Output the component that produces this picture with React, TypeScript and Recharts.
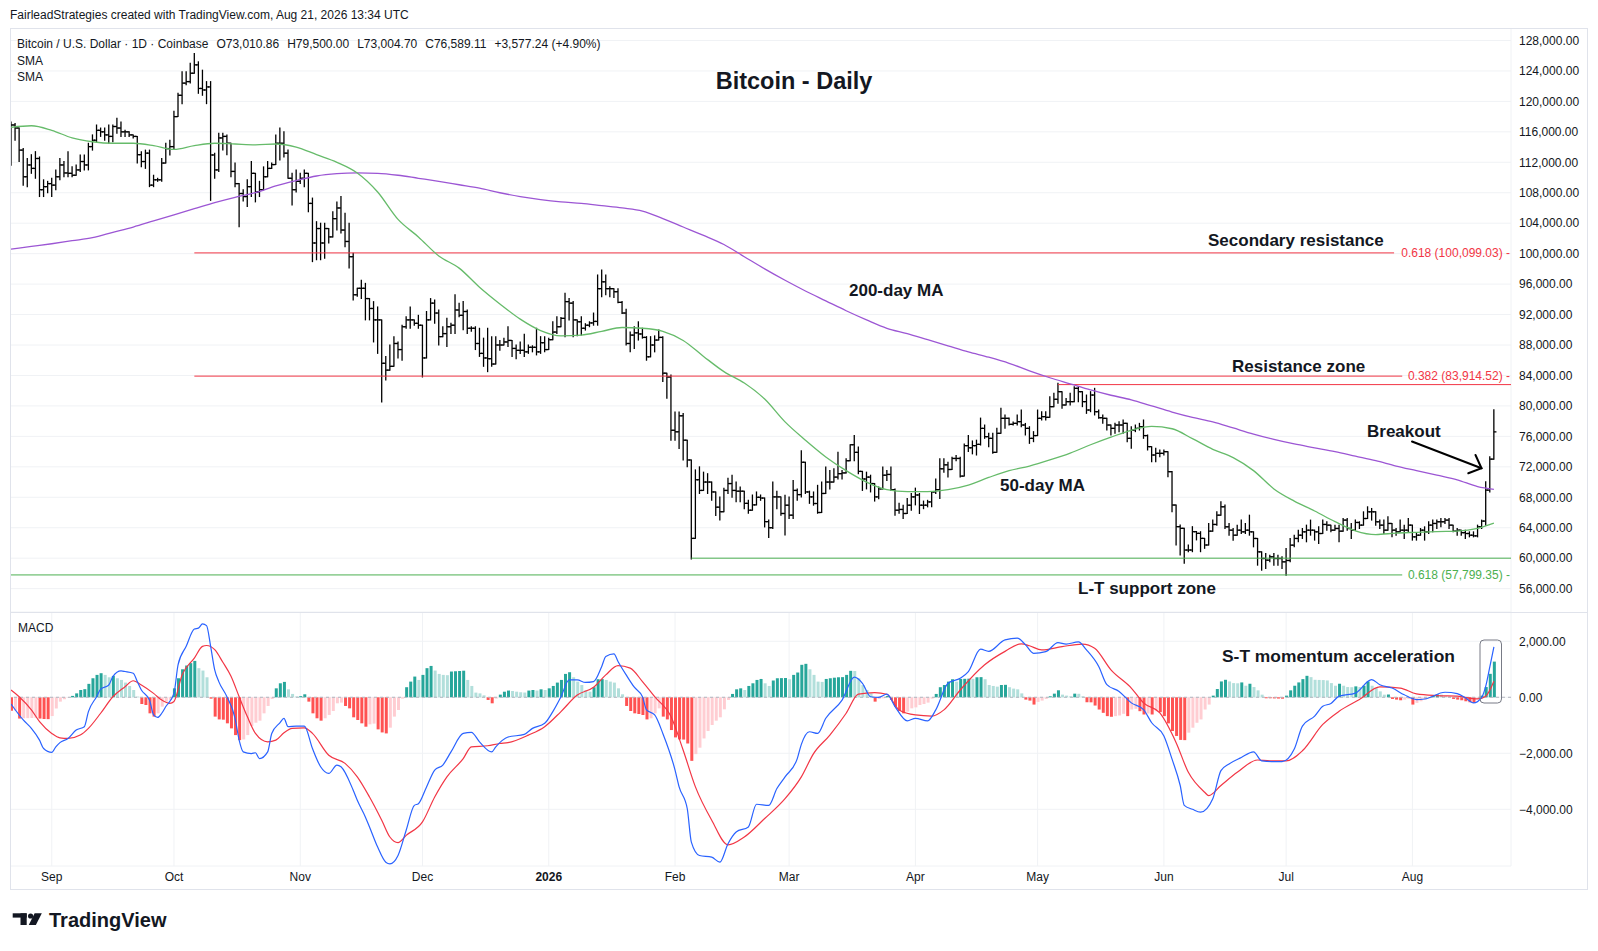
import React from "react";
import { ComposedChart, Bar, Line, XAxis, YAxis, CartesianGrid, ReferenceLine, Cell } from "recharts";

// day 0 = Aug 22 2025, day 364 = Aug 21 2026; prices in thousands of USD
const FIRST_OPEN = 113.5;

const CLOSE = [
  116.9, 116.5, 113.6, 110.1, 111.65, 111.2, 112.5, 108.4, 108.8, 109.2,
  109.0, 110.1, 111.65, 110.6, 110.55, 110.3, 111.0, 112.1, 111.65, 114.06,
  114.9, 116.2, 116.0, 115.6, 115.4, 116.7, 116.5, 116.0, 116.0, 115.6,
  115.4, 113.0, 112.1, 113.2, 109.0, 109.7, 109.7, 111.9, 113.8, 114.06,
  118.0, 120.8, 122.4, 122.6, 123.7, 124.8, 121.7, 121.5, 121.9, 112.96,
  111.0, 115.2, 115.4, 114.5, 110.8, 109.2, 107.9, 107.5, 108.8, 110.55,
  108.1, 108.4, 110.1, 111.2, 111.7, 114.5, 114.5, 113.2, 109.9, 108.4,
  109.5, 109.9, 110.55, 106.6, 101.4, 103.3, 101.4, 103.3, 102.2, 104.6,
  106.0, 103.1, 101.6, 99.6, 94.6, 95.45, 95.45, 94.1, 92.8, 91.3,
  91.3, 85.6, 84.7, 85.2, 88.2, 87.4, 90.4, 91.3, 91.3, 90.85,
  90.6, 86.3, 91.3, 93.5, 92.2, 89.1, 89.5, 90.4, 90.6, 92.6,
  91.9, 92.4, 90.2, 90.2, 88.2, 86.9, 86.3, 86.2, 85.5, 88.0,
  88.0, 88.4, 88.6, 87.55, 87.3, 87.3, 87.1, 87.7, 87.7, 87.1,
  88.3, 87.4, 88.7, 89.7, 90.4, 91.5, 93.7, 93.5, 91.3, 91.05,
  90.2, 90.6, 90.9, 91.1, 95.4, 96.3, 95.4, 95.4, 95.0, 93.6,
  92.2, 88.2, 89.3, 89.6, 89.45, 89.0, 86.45, 88.0, 88.65, 89.0,
  84.3, 83.8, 76.8, 76.6, 78.7, 75.5, 72.9, 62.6, 70.3, 68.9,
  70.0, 70.0, 68.7, 66.7, 66.1, 68.9, 69.8, 68.9, 68.8, 68.8,
  67.2, 66.3, 67.0, 68.0, 67.9, 64.8, 64.0, 68.05, 68.05, 65.87,
  66.96, 65.65, 68.9, 68.35, 72.6, 68.7, 68.05, 67.18, 66.0, 68.5,
  70.0, 70.0, 70.65, 71.1, 71.2, 72.8, 74.9, 73.9, 71.4, 70.4,
  70.65, 69.8, 68.05, 69.1, 70.9, 71.0, 69.0, 66.3, 66.4, 65.87,
  66.96, 68.05, 68.3, 66.96, 66.96, 67.39, 68.7, 69.0, 71.74, 72.26,
  71.65, 73.1, 73.1, 70.78, 74.78, 74.5, 74.78, 74.95, 77.05, 75.96,
  75.74, 73.9, 76.4, 78.37, 78.37, 77.58, 77.71, 77.93, 77.49, 77.05,
  75.74, 76.1, 78.37, 78.59, 78.5, 79.9, 80.87, 81.87, 80.12, 80.56,
  80.56, 82.31, 81.87, 80.56, 79.46, 81.43, 79.24, 78.45, 78.37, 77.49,
  77.05, 77.49, 77.49, 77.71, 75.74, 76.83, 77.05, 77.27, 76.1, 74.65,
  73.55, 73.77, 73.77, 73.99, 71.36, 66.98, 64.14, 63.92, 61.07, 61.07,
  63.48, 63.26, 62.6, 61.73, 63.55, 64.43, 65.65, 66.75, 64.12, 63.68,
  63.02, 63.68, 63.46, 63.68, 63.46, 62.59, 60.83, 59.96, 59.74, 60.18,
  59.96, 59.96, 59.52, 59.7, 61.71, 62.59, 63.02, 63.46, 63.68, 63.68,
  63.46, 63.24, 64.43, 64.34, 63.68, 63.9, 63.55, 65.0, 63.9, 63.68,
  64.69, 64.34, 65.21, 66.09, 66.09, 64.78, 64.34, 63.68, 64.56, 63.68,
  63.46, 63.68, 63.68, 64.34, 62.8, 63.02, 63.68, 63.46, 64.34, 64.56,
  64.78, 64.78, 65.0, 64.34, 63.55, 63.68, 63.35, 63.24, 63.02, 62.93,
  64.12, 64.87, 68.94, 73.01, 76.59,
];

const HIGH = [
  117.3, 117.1, 116.5, 113.8, 112.5, 113.0, 113.4, 112.7, 109.7, 109.5,
  109.9, 111.0, 112.5, 112.1, 113.4, 111.4, 111.65, 112.96, 112.96, 114.5,
  115.6, 116.9, 116.5, 116.5, 116.9, 116.9, 117.8, 117.3, 116.2, 116.0,
  115.6, 115.4, 113.4, 113.6, 113.6, 110.3, 109.9, 112.5, 114.5, 114.9,
  118.7, 121.06, 123.9, 123.9, 125.0, 126.3, 125.2, 124.1, 122.6, 122.6,
  113.2, 115.8, 115.8, 115.6, 114.5, 111.9, 109.2, 108.4, 109.7, 112.1,
  110.55, 109.5, 111.4, 112.1, 111.9, 115.6, 116.5, 116.0, 113.6, 110.55,
  111.0, 110.55, 111.0, 110.55, 107.3, 104.2, 104.0, 104.0, 103.3, 105.5,
  106.8, 107.5, 105.3, 104.0, 100.04, 95.45, 96.5, 96.1, 94.1, 93.7,
  93.0, 91.3, 86.5, 88.0, 89.1, 88.4, 90.6, 91.7, 93.0, 91.3,
  91.9, 90.6, 92.4, 94.1, 93.9, 92.6, 90.4, 91.5, 90.85, 94.6,
  93.5, 93.7, 92.6, 90.4, 90.4, 90.2, 88.9, 90.2, 89.1, 89.1,
  88.6, 88.9, 90.4, 88.6, 88.0, 88.4, 89.4, 88.0, 87.9, 90.2,
  89.1, 89.1, 88.9, 91.05, 91.7, 91.6, 94.8, 94.1, 93.7, 91.3,
  91.7, 90.8, 91.05, 92.2, 97.2, 97.85, 97.2, 95.65, 95.4, 95.4,
  93.7, 92.7, 89.7, 90.4, 91.05, 90.2, 89.1, 89.1, 89.2, 89.96,
  89.1, 84.3, 84.05, 79.2, 79.2, 79.0, 75.5, 72.9, 71.6, 72.0,
  71.3, 71.1, 70.0, 68.7, 68.05, 69.2, 70.5, 70.9, 70.0, 69.35,
  68.8, 67.6, 68.3, 68.7, 68.3, 67.9, 65.0, 70.0, 68.8, 68.05,
  68.26, 68.05, 70.2, 69.1, 74.1, 72.6, 68.8, 68.7, 69.57, 70.0,
  71.96, 71.5, 71.74, 73.9, 71.5, 73.05, 74.9, 76.1, 74.6, 71.4,
  71.3, 70.9, 69.8, 69.35, 71.96, 71.5, 71.96, 69.1, 67.2, 66.96,
  67.83, 68.5, 69.2, 68.5, 67.5, 67.6, 68.7, 70.4, 73.05, 73.05,
  72.61, 73.27, 73.5, 73.27, 75.0, 76.1, 75.4, 75.5, 78.4, 77.49,
  76.4, 76.4, 77.05, 79.68, 78.8, 78.4, 77.9, 78.8, 79.46, 77.7,
  77.27, 76.62, 79.46, 79.24, 79.24, 81.21, 81.65, 82.97, 81.87, 80.99,
  81.65, 82.53, 82.53, 81.87, 81.43, 81.87, 82.31, 79.46, 78.81, 78.37,
  77.49, 77.71, 77.93, 78.15, 77.71, 77.27, 77.49, 77.71, 78.15, 76.18,
  74.65, 74.43, 74.21, 74.21, 73.99, 71.4, 66.98, 64.36, 63.92, 61.73,
  64.14, 63.5, 63.48, 62.6, 64.56, 65.0, 66.09, 67.4, 66.97, 64.56,
  63.9, 64.34, 65.0, 64.56, 65.65, 63.46, 62.59, 60.83, 60.61, 60.4,
  60.61, 60.4, 60.18, 61.27, 62.59, 63.02, 63.68, 63.9, 64.34, 65.0,
  63.68, 64.12, 65.0, 64.78, 64.34, 64.34, 64.34, 65.21, 65.21, 64.56,
  65.0, 64.78, 66.09, 66.75, 66.53, 66.09, 65.0, 65.0, 65.43, 64.56,
  63.9, 65.0, 64.34, 65.21, 64.34, 63.24, 63.9, 64.12, 64.78, 65.0,
  65.0, 65.21, 65.21, 65.21, 64.34, 63.9, 63.68, 63.68, 63.46, 63.46,
  64.34, 65.0, 70.03, 73.31, 79.5,
];

const LOW = [
  111.6, 114.9, 112.1, 109.0, 108.8, 110.55, 109.9, 107.5, 107.5, 108.0,
  107.5, 108.4, 109.7, 110.1, 110.1, 110.1, 110.3, 110.8, 111.0, 111.0,
  113.6, 114.7, 115.4, 114.9, 114.5, 114.7, 115.8, 115.4, 115.4, 115.4,
  115.2, 111.9, 111.4, 111.2, 108.8, 108.8, 109.5, 109.5, 111.9, 112.96,
  113.8, 118.0, 119.7, 122.2, 122.4, 123.7, 121.06, 120.8, 119.7, 107.0,
  109.9, 110.8, 113.6, 113.0, 110.1, 108.8, 103.55, 106.9, 106.2, 107.5,
  106.8, 107.5, 108.4, 110.1, 111.2, 111.7, 112.3, 112.7, 109.9, 106.4,
  108.1, 109.2, 108.8, 105.5, 98.95, 99.2, 99.2, 99.4, 101.4, 102.2,
  103.1, 102.7, 100.9, 98.1, 93.9, 94.4, 94.1, 91.3, 91.3, 88.4,
  86.9, 80.5, 83.4, 84.7, 85.2, 86.3, 86.0, 90.2, 90.2, 90.6,
  90.2, 83.8, 86.3, 91.3, 90.85, 88.0, 89.1, 87.8, 89.5, 89.5,
  91.7, 90.0, 89.5, 89.8, 87.4, 86.5, 85.2, 84.5, 85.2, 85.5,
  87.3, 88.0, 87.8, 86.5, 86.2, 86.9, 86.5, 86.9, 87.1, 86.7,
  86.9, 87.1, 87.4, 88.7, 89.5, 90.4, 89.1, 91.3, 89.1, 89.2,
  89.3, 89.96, 90.4, 90.6, 90.6, 94.35, 94.6, 94.35, 94.25, 93.55,
  92.15, 88.0, 87.1, 87.55, 88.65, 88.9, 86.0, 86.45, 87.1, 88.65,
  83.2, 81.0, 75.5, 75.5, 74.4, 72.9, 72.0, 59.9, 62.6, 68.5,
  68.9, 68.5, 67.6, 65.6, 65.0, 66.1, 68.5, 68.0, 67.4, 67.4,
  66.5, 65.9, 66.3, 67.0, 67.6, 64.1, 62.7, 63.9, 66.5, 65.65,
  63.05, 65.2, 65.2, 67.6, 68.05, 68.5, 67.2, 66.96, 65.9, 66.0,
  68.5, 69.1, 70.0, 70.4, 70.4, 71.2, 72.8, 72.8, 71.1, 68.9,
  69.1, 68.7, 67.5, 67.8, 69.1, 70.2, 68.9, 65.65, 65.9, 65.2,
  65.87, 66.3, 67.0, 65.87, 66.5, 66.74, 66.74, 68.5, 67.83, 71.3,
  70.65, 71.65, 72.8, 70.65, 70.78, 74.0, 73.7, 73.55, 74.86, 75.74,
  74.65, 73.77, 73.9, 76.4, 77.05, 77.49, 77.49, 77.49, 77.27, 76.18,
  75.08, 75.3, 76.1, 78.15, 78.15, 78.5, 79.9, 80.34, 79.68, 80.12,
  80.12, 80.56, 80.56, 79.9, 79.02, 79.24, 78.81, 78.37, 77.71, 76.83,
  76.18, 76.4, 76.62, 76.4, 75.3, 74.43, 76.62, 76.83, 75.74, 74.21,
  72.67, 72.67, 73.33, 73.55, 70.7, 66.1, 61.73, 60.41, 59.32, 60.85,
  60.85, 62.4, 60.85, 61.29, 61.73, 63.55, 64.34, 65.65, 63.9, 63.02,
  62.37, 63.02, 63.24, 63.24, 63.02, 61.49, 59.08, 58.42, 58.64, 59.52,
  59.08, 59.08, 58.64, 57.77, 59.52, 61.49, 62.15, 62.59, 62.15, 63.02,
  62.37, 61.93, 63.24, 63.68, 63.46, 63.68, 62.15, 63.55, 63.68, 62.59,
  63.68, 63.9, 64.34, 65.21, 65.0, 64.34, 63.9, 63.24, 63.68, 62.8,
  63.02, 63.46, 62.59, 63.46, 62.37, 62.37, 63.02, 62.37, 63.24, 63.46,
  63.9, 64.12, 64.56, 63.9, 63.46, 63.02, 63.02, 62.59, 62.8, 62.8,
  62.8, 63.9, 64.34, 68.7, 73.0,
];

// [day, value]
const SMA50: [number, number][] = [
  [0, 116.6], [5, 116.8], [10, 116.2], [15, 115.2], [20, 114.7], [25, 114.5], [30, 114.5], [35, 114.2],
  [40, 113.7], [45, 114.2], [50, 114.5], [55, 114.4], [60, 114.3], [65, 114.4], [70, 114.0], [75, 113.0],
  [80, 112.0], [85, 110.6], [90, 108.1], [95, 104.5], [100, 102.2], [105, 99.7], [110, 98.1], [115, 95.6],
  [120, 93.4], [125, 91.4], [130, 89.9], [135, 89.2], [140, 89.3], [145, 89.8], [150, 90.3], [155, 90.2],
  [160, 89.8], [165, 88.6], [170, 86.5], [175, 84.5], [180, 83.0], [185, 80.9], [190, 77.9], [195, 75.5],
  [200, 73.3], [205, 71.5], [210, 70.0], [215, 69.0], [220, 68.75], [225, 68.75], [230, 69.0], [235, 69.6],
  [240, 70.6], [245, 71.5], [250, 72.1], [255, 72.9], [260, 73.8], [265, 74.9], [270, 75.9], [275, 76.8],
  [280, 77.3], [285, 77.0], [290, 75.7], [295, 74.3], [300, 73.2], [305, 71.5], [310, 69.1], [315, 67.5],
  [320, 66.2], [325, 64.8], [330, 63.6], [335, 63.1], [340, 63.3], [345, 63.4], [350, 63.5], [355, 63.55],
  [360, 63.9], [364, 64.6],
];

const SMA200: [number, number][] = [
  [0, 100.6], [5, 100.95], [10, 101.3], [15, 101.7], [20, 102.1], [25, 102.8], [30, 103.5], [35, 104.3],
  [40, 105.1], [45, 105.9], [50, 106.7], [55, 107.4], [60, 108.0], [65, 108.9], [70, 109.6], [75, 110.2],
  [80, 110.5], [85, 110.6], [90, 110.55], [95, 110.3], [100, 109.9], [105, 109.5], [110, 109.05], [115, 108.6],
  [120, 108.0], [125, 107.5], [130, 107.1], [135, 106.8], [140, 106.6], [145, 106.3], [150, 106.0], [155, 105.6],
  [160, 104.6], [165, 103.5], [170, 102.4], [175, 101.2], [180, 99.6], [185, 98.0], [190, 96.5], [195, 95.1],
  [200, 93.8], [205, 92.5], [210, 91.3], [215, 90.2], [220, 89.5], [225, 88.7], [230, 87.9], [235, 87.1],
  [240, 86.4], [245, 85.6], [250, 84.6], [255, 83.7], [260, 82.9], [265, 82.1], [270, 81.4], [275, 80.8],
  [280, 80.0], [285, 79.2], [290, 78.5], [295, 77.9], [300, 77.1], [305, 76.3], [310, 75.6], [315, 75.0],
  [320, 74.5], [325, 74.0], [330, 73.4], [335, 72.8], [340, 72.1], [345, 71.5], [350, 70.9], [355, 70.3],
  [360, 69.4], [364, 69.05],
];

const MACD: [number, number][] = [
  [0, -240], [3, -810], [5, -1110], [7, -1530], [8, -1830], [10, -1970], [11, -1770], [12, -1620], [14, -1470],
  [16, -1170], [18, -1050], [19, -510], [21, 20], [22, 290], [24, 440], [25, 740], [27, 940], [28, 920], [30, 860],
  [31, 560], [32, 260], [34, -100], [35, -630], [36, -720], [37, -570], [38, -330], [40, 140], [41, 1160], [43, 1820],
  [45, 2440], [46, 2470], [47, 2620], [48, 2560], [49, 1820], [50, 980], [51, 560], [53, 20], [55, -750], [56, -1530],
  [57, -1950], [59, -2010], [60, -1980], [61, -2190], [63, -1950], [64, -1290], [66, -910], [67, -750], [68, -1050],
  [70, -1030], [72, -1030], [74, -1830], [76, -2480], [78, -2720], [80, -2420], [81, -2480], [84, -3320], [85, -3680],
  [87, -4280], [88, -4630], [90, -5350], [92, -5890], [93, -5950], [95, -5650], [97, -4750], [99, -3860], [100, -3800],
  [102, -3200], [104, -2600], [106, -2420], [108, -1950], [111, -1290], [113, -1250], [115, -1590], [118, -1950],
  [119, -1770], [122, -1420], [126, -1325], [128, -1110], [131, -930], [133, -510], [135, 20], [137, 620], [139, 620],
  [141, 530], [143, 560], [145, 1100], [146, 1460], [148, 1550], [149, 1280], [151, 800], [153, 360], [155, 20],
  [156, -450], [158, -630], [160, -1290], [163, -2600], [164, -3200], [166, -3980], [167, -5170], [169, -5650],
  [172, -5710], [174, -5890], [176, -5230], [178, -4810], [181, -4630], [183, -3820], [186, -3860], [188, -3260],
  [190, -2840], [193, -2190], [194, -1680], [196, -1230], [198, -1290], [200, -750], [204, -100], [207, 720],
  [209, 500], [211, 20], [213, 0], [215, 110], [217, -330], [220, -840], [222, -750], [225, -840], [227, -450],
  [230, 500], [233, 680], [235, 920], [238, 1720], [240, 1640], [244, 2050], [247, 2110], [249, 1880], [251, 1570],
  [254, 1630], [257, 1950], [259, 1900], [262, 1980], [264, 1690], [267, 1100], [269, 450], [272, 210], [275, -200],
  [278, -440], [280, -910], [283, -1380], [285, -2210], [287, -3150], [288, -3860], [290, -4000], [292, -4100],
  [295, -3620], [297, -2620], [299, -2380], [302, -2150], [305, -1950], [307, -2270], [310, -2300], [312, -2300],
  [315, -1850], [317, -1030], [320, -670], [322, -320], [324, -220], [326, 40], [330, 150], [334, 630], [336, 450],
  [339, 330], [342, 90], [345, -80], [347, -60], [352, 180], [355, 130], [357, -20], [359, -200], [361, 0],
  [362, 400], [363, 1090], [364, 1800],
];

const SIGNAL: [number, number][] = [
  [0, 260], [2, 20], [5, -450], [7, -870], [10, -1290], [12, -1450], [14, -1470], [17, -1350], [19, -1110],
  [22, -570], [25, 20], [28, 380], [30, 590], [32, 440], [35, 140], [37, -100], [39, -220], [40, -150], [42, 800],
  [45, 1400], [47, 1820], [48, 1850], [50, 1700], [52, 1250], [54, 750], [56, 20], [58, -690], [60, -1290],
  [63, -1590], [65, -1530], [67, -1270], [69, -1110], [72, -1090], [74, -1290], [78, -2070], [82, -2360],
  [85, -2840], [88, -3560], [91, -4390], [93, -4990], [95, -5190], [97, -4930], [101, -4450], [104, -3560],
  [107, -2840], [111, -2190], [113, -1770], [117, -1730], [120, -1650], [122, -1620], [127, -1350], [131, -1050],
  [135, -510], [139, 80], [143, 360], [146, 800], [149, 1130], [152, 1040], [155, 560], [158, 20], [162, -690],
  [165, -1890], [168, -3200], [172, -4390], [176, -5270], [180, -4990], [185, -4330], [190, -3620], [194, -2840],
  [197, -2010], [201, -1350], [205, -570], [208, 110], [212, 170], [215, 110], [218, -450], [222, -630],
  [226, -670], [229, -450], [233, 260], [239, 1160], [244, 1640], [248, 1910], [250, 1840], [253, 1690],
  [258, 1810], [263, 1900], [266, 1750], [270, 980], [275, 330], [278, -200], [282, -560], [286, -1620],
  [289, -2680], [293, -3390], [294, -3510], [297, -3150], [301, -2680], [306, -2240], [309, -2270], [313, -2270],
  [317, -1910], [322, -970], [326, -500], [331, -80], [336, 370], [341, 330], [345, 120], [350, 60], [355, 40],
  [360, -60], [362, 40], [364, 570],
];

const HIST = [
  -480, -470, -760, -750, -745, -740, -735, -760, -775, -780,
  -670, -400, -155, -70, -10, 50, 140, 260, 290, 480,
  680, 800, 860, 800, 715, 765, 680, 620, 525, 405,
  260, 25, -240, -275, -573, -690, -573, -335, -155, -95,
  320, 680, 1000, 1135, 1220, 1300, 1040, 955, 715, -48,
  -690, -790, -800, -930, -1110, -1350, -1530, -1505, -1350, -1027,
  -907, -835, -573, -310, -60, 320, 500, 550, 285, 120,
  30, 40, 107, -155, -573, -750, -835, -750, -630, -490,
  -215, -190, -310, -395, -715, -810, -930, -1050, -965, -940,
  -1145, -1255, -1290, -1085, -690, -454, -48, 360, 560, 740,
  620, 800, 1040, 1120, 955, 835, 800, 790, 920, 930,
  940, 950, 620, 405, 167, 140, 70, -95, -215, -48,
  95, 200, 240, 225, 200, 180, 170, 240, 260, 240,
  285, 260, 320, 405, 525, 620, 835, 895, 715, 560,
  440, 260, 200, 360, 645, 650, 620, 560, 525, 320,
  107, -310, -490, -573, -597, -633, -790, -750, -573, -395,
  -690, -790, -1170, -1433, -1505, -1510, -1650, -2270, -2030, -1800,
  -1470, -1205, -990, -835, -715, -430, -95, 120, 285, 320,
  260, 405, 500, 620, 655, 500, 405, 600, 680, 685,
  690, 645, 800, 885, 1160, 1195, 1000, 800, 560, 550,
  655, 680, 700, 715, 720, 800, 945, 940, 680, 440,
  260, 140, -155, -60, -36, 48, -95, -335, -490, -573,
  -513, -395, -360, -275, -240, -190, -48, 120, 360, 440,
  560, 645, 560, 655, 660, 665, 660, 715, 720, 645,
  440, 405, 380, 440, 445, 360, 310, 285, 140, -83,
  -118, -260, -165, -118, -60, 35, 130, 250, 95, 60,
  35, 130, 125, 35, -177, -180, -295, -437, -555, -673,
  -696, -673, -650, -590, -673, -437, -413, -496, -614, -578,
  -614, -496, -531, -673, -932, -1204, -1381, -1522, -1530, -1263,
  -1086, -909, -791, -437, -260, 59, 295, 566, 625, 566,
  507, 500, 531, 413, 484, 366, 248, 94, -35, -36,
  -40, -45, -50, 59, 248, 413, 531, 649, 767, 720,
  625, 620, 615, 602, 507, 413, 484, 413, 366, 360,
  390, 366, 413, 566, 413, 330, 212, 94, 100, -59,
  -83, -106, -83, -59, -260, -200, -142, -83, -35, 59,
  106, 94, 35, 24, -59, -83, -106, -142, -177, -200,
  -59, 59, 366, 838, 1274,
];

const MONTH_DAYS = [10, 40, 71, 101, 132, 163, 191, 222, 252, 283, 313, 344];
const MONTH_LABELS = ["Sep", "Oct", "Nov", "Dec", "2026", "Feb", "Mar", "Apr", "May", "Jun", "Jul", "Aug"];
const PRICE_TICKS = [56, 60, 64, 68, 72, 76, 80, 84, 88, 92, 96, 100, 104, 108, 112, 116, 120, 124, 128];
const MACD_TICKS = [-4000, -2000, 0, 2000];

const FONT = "'Liberation Sans', Arial, sans-serif";
const INK = "#131722";
const RED = "#f23645";
const GREEN = "#4caf50";
const GRID = "#f0f2f5";
const X_DOMAIN: [number, number] = [-0.25, 368.2];

const sma50Map = new Map(SMA50);
const sma200Map = new Map(SMA200);
const macdMap = new Map(MACD);
const signalMap = new Map(SIGNAL);

const priceRows = CLOSE.map((c, day) => {
  const o = day === 0 ? FIRST_OPEN : CLOSE[day - 1];
  const h = Math.max(HIGH[day], o, c);
  const l = Math.min(LOW[day], o, c);
  return { day, o, h, l, c, range: [l, h], sma50: sma50Map.get(day), sma200: sma200Map.get(day) };
});

const macdRows = HIST.map((hist, day) => ({
  day,
  hist,
  macd: macdMap.get(day),
  signal: signalMap.get(day),
}));

const histColor = (i: number) => {
  const v = HIST[i];
  const prev = i > 0 ? HIST[i - 1] : v;
  if (v >= 0) return v > prev ? "#26a69a" : "#b2dfdb";
  return v > prev ? "#ffcdd2" : "#ff5252";
};

const fmt2 = (v: number) =>
  v.toLocaleString("en-US", { minimumFractionDigits: 2, maximumFractionDigits: 2 }).replace("-", "\u2212");

function OhlcBar(props: any) {
  const { x, y, width, height, payload } = props;
  if (!payload || x == null || y == null) return null;
  const { o, h, l, c } = payload;
  const top = Math.min(y, y + height);
  const bottom = Math.max(y, y + height);
  const span = h - l || 1;
  const py = (v: number) => top + ((h - v) / span) * (bottom - top);
  const cx = x + width / 2;
  return (
    <g stroke="#000" strokeWidth={1.3}>
      <line x1={cx} x2={cx} y1={top - 0.5} y2={bottom + 0.5} />
      <line x1={cx - 2.6} x2={cx} y1={py(o)} y2={py(o)} />
      <line x1={cx} x2={cx + 2.6} y1={py(c)} y2={py(c)} />
    </g>
  );
}

function MonthTick(props: any) {
  const { x, y, payload } = props;
  const label = MONTH_LABELS[MONTH_DAYS.indexOf(payload.value)];
  return (
    <text x={x} y={y + 11} textAnchor="middle" dominantBaseline="central" fontSize={12}
      fontFamily={FONT} fontWeight={label === "2026" ? 700 : 400} fill={INK}>
      {label}
    </text>
  );
}

const fibLabel = (value: string, fill: string) => ({
  value,
  position: "insideRight" as const,
  offset: 1,
  fill,
  fontSize: 12,
  fontFamily: FONT,
});

const yTick = { fontSize: 12, fill: INK, fontFamily: FONT };

function PricePane() {
  return (
    <ComposedChart width={1578} height={584} data={priceRows} margin={{ top: 0, right: 0, bottom: 0, left: 0 }}>
      <CartesianGrid stroke={GRID} />
      <XAxis type="number" dataKey="day" domain={X_DOMAIN} ticks={MONTH_DAYS} allowDataOverflow
        height={0} tick={false} tickLine={false} axisLine={false} />
      <YAxis orientation="right" domain={[52.93, 129.64]} ticks={PRICE_TICKS} allowDataOverflow interval={0}
        width={77} tickLine={false} axisLine={false} tickSize={0} tickMargin={8} tick={yTick}
        tickFormatter={(v: number) => fmt2(v * 1000)} />
      <ReferenceLine segment={[{ x: 45, y: 100.099 }, { x: 339.5, y: 100.099 }]} stroke={RED} strokeWidth={1} />
      <ReferenceLine y={100.099} stroke="none" label={fibLabel("0.618 (100,099.03) -", RED)} />
      <ReferenceLine segment={[{ x: 45, y: 83.9145 }, { x: 341.5, y: 83.9145 }]} stroke={RED} strokeWidth={1} />
      <ReferenceLine y={83.9145} stroke="none" label={fibLabel("0.382 (83,914.52) -", RED)} />
      <ReferenceLine segment={[{ x: 257, y: 82.8 }, { x: 368.2, y: 82.8 }]} stroke={RED} strokeWidth={1} />
      <ReferenceLine segment={[{ x: 167, y: 60.0 }, { x: 368.2, y: 60.0 }]} stroke={GREEN} strokeWidth={1} />
      <ReferenceLine segment={[{ x: -0.25, y: 57.799 }, { x: 341.5, y: 57.799 }]} stroke={GREEN} strokeWidth={1} />
      <ReferenceLine y={57.799} stroke="none" label={fibLabel("0.618 (57,799.35) -", GREEN)} />
      <Line dataKey="sma200" type="monotone" stroke="#9c56d4" strokeWidth={1.3} dot={false} connectNulls
        isAnimationActive={false} />
      <Line dataKey="sma50" type="monotone" stroke="#66bb6a" strokeWidth={1.3} dot={false} connectNulls
        isAnimationActive={false} />
      <Bar dataKey="range" barSize={4} shape={OhlcBar} isAnimationActive={false} />
    </ComposedChart>
  );
}

function MacdPane() {
  return (
    <ComposedChart width={1578} height={278} data={macdRows} margin={{ top: 0, right: 0, bottom: 0, left: 0 }}>
      <CartesianGrid stroke={GRID} />
      <XAxis type="number" dataKey="day" domain={X_DOMAIN} ticks={MONTH_DAYS} allowDataOverflow interval={0}
        height={24} tickLine={false} axisLine={false} tickSize={0} tickMargin={0} tick={<MonthTick />} />
      <YAxis orientation="right" domain={[-6025, 3046]} ticks={MACD_TICKS} allowDataOverflow interval={0}
        width={77} tickLine={false} axisLine={false} tickSize={0} tickMargin={8} tick={yTick}
        tickFormatter={fmt2} />
      <ReferenceLine y={0} stroke="#b2b5be" strokeDasharray="3 3" strokeWidth={1} />
      <Bar dataKey="hist" barSize={3} isAnimationActive={false}>
        {macdRows.map((r, i) => (
          <Cell key={r.day} fill={histColor(i)} />
        ))}
      </Bar>
      <Line dataKey="signal" type="monotone" stroke="#f23645" strokeWidth={1.2} dot={false} connectNulls
        isAnimationActive={false} />
      <Line dataKey="macd" type="monotone" stroke="#2962ff" strokeWidth={1.2} dot={false} connectNulls
        isAnimationActive={false} />
    </ComposedChart>
  );
}

function Overlay() {
  const note = { fontFamily: FONT, fontWeight: 700, fontSize: 17, fill: INK, dominantBaseline: "central" as const };
  const small = { fontFamily: FONT, fontSize: 12, fill: INK, dominantBaseline: "central" as const };
  return (
    <svg width={1598} height={951} style={{ position: "absolute", left: 0, top: 0, pointerEvents: "none" }}>
      <rect x={10.5} y={28.5} width={1577} height={861} fill="none" stroke="#e0e3eb" />
      <line x1={10} x2={1588} y1={612.5} y2={612.5} stroke="#e0e3eb" />

      <text x={10} y={15} {...small}>FairleadStrategies created with TradingView.com, Aug 21, 2026 13:34 UTC</text>
      <text x={17} y={43.5} {...small}>
        Bitcoin / U.S. Dollar · 1D · Coinbase
        <tspan dx={8}>O73,010.86</tspan>
        <tspan dx={8}>H79,500.00</tspan>
        <tspan dx={8}>L73,004.70</tspan>
        <tspan dx={8}>C76,589.11</tspan>
        <tspan dx={8}>+3,577.24 (+4.90%)</tspan>
      </text>
      <text x={17} y={60.5} {...small}>SMA</text>
      <text x={17} y={77} {...small}>SMA</text>
      <text x={18} y={628} {...small}>MACD</text>

      <text x={794} y={80.5} textAnchor="middle" {...note} fontSize={23.5}>Bitcoin - Daily</text>
      <text x={1208} y={240.5} {...note}>Secondary resistance</text>
      <text x={849} y={290.5} {...note}>200-day MA</text>
      <text x={1232} y={366} {...note}>Resistance zone</text>
      <text x={1367} y={431.5} {...note}>Breakout</text>
      <text x={1000} y={485} {...note}>50-day MA</text>
      <text x={1078} y={588} {...note}>L-T support zone</text>
      <text x={1222} y={656} {...note} fontSize={17.4}>S-T momentum acceleration</text>

      <g stroke="#000" strokeWidth={2} fill="none" strokeLinecap="round">
        <line x1={1412} y1={441.5} x2={1481.5} y2={468.3} />
        <polyline points="1475.5,455 1481.5,468.3 1468.3,473.3" />
      </g>
      <rect x={1480} y={640} width={21.5} height={63} rx={4} fill="none" stroke="#787b86" strokeWidth={1} />

      <g fill={INK}>
        <rect x={12.7} y={913.3} width={14} height={4.3} />
        <rect x={20.5} y={913.3} width={6.2} height={11.7} />
        <circle cx={30.6} cy={916} r={2.6} />
        <polygon points="34.6,913.3 41.8,913.3 35.9,925 28.8,925" />
      </g>
      <text x={49} y={920} fontFamily={FONT} fontWeight={700} fontSize={20} fill={INK}
        dominantBaseline="central">TradingView</text>
    </svg>
  );
}

export default function App() {
  return (
    <div style={{ position: "relative", width: 1598, height: 951, background: "#fff", fontFamily: FONT }}>
      <style>{"body{margin:0}"}</style>
      <div style={{ position: "absolute", left: 10, top: 28 }}>
        <PricePane />
      </div>
      <div style={{ position: "absolute", left: 10, top: 612 }}>
        <MacdPane />
      </div>
      <Overlay />
    </div>
  );
}
